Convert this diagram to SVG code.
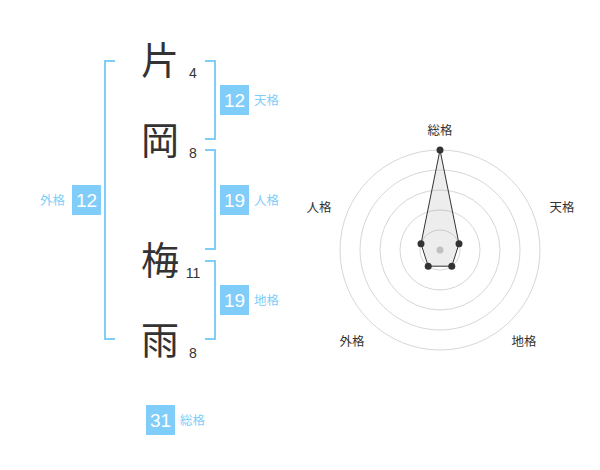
<svg xmlns="http://www.w3.org/2000/svg" width="600" height="470" viewBox="0 0 600 470">
<style>
.kanji{font-family:"Noto Sans CJK JP","Noto Sans CJK SC",sans-serif;font-size:38px;fill:#333;text-anchor:middle}
.cnt{font-family:"Liberation Sans",Arial,sans-serif;font-size:14px;fill:#333;text-anchor:middle}
.br{fill:none;stroke:#80cdfa;stroke-width:2}
.box{fill:#80cdfa}
.num{font-family:"Liberation Sans",Arial,sans-serif;font-size:19px;fill:#fff;text-anchor:middle}
.lab{font-family:"Noto Sans CJK JP",sans-serif;font-size:12.5px;fill:#80cdfa}
.rl{font-family:"Noto Sans CJK JP",sans-serif;font-size:12.5px;fill:#333;text-anchor:middle}
.ring{fill:none;stroke:#ccc;stroke-width:0.8}
</style>
<rect width="600" height="470" fill="#fff"/>
<g id="connectors">
<path class="br" d="M115,61 H105 V339 H115"/>
<path class="br" d="M205,61 H215 V139 H205"/>
<path class="br" d="M205,150 H215 V249 H205"/>
<path class="br" d="M205,261 H215 V339 H205"/>
</g>
<g id="char1"><text class="kanji" x="160" y="74">片</text><text class="cnt" x="193" y="78">4</text></g>
<g id="char2"><text class="kanji" x="160" y="154">岡</text><text class="cnt" x="193" y="158">8</text></g>
<g id="char3"><text class="kanji" x="160" y="274">梅</text><text class="cnt" x="193" y="278">11</text></g>
<g id="char4"><text class="kanji" x="160" y="354">雨</text><text class="cnt" x="193" y="358">8</text></g>
<g id="tenkaku"><rect class="box" x="220" y="85" width="29" height="30"/><text class="num" x="234.5" y="107">12</text><text class="lab" x="254" y="105">天格</text></g>
<g id="jinkaku"><rect class="box" x="220" y="185" width="29" height="30"/><text class="num" x="234.5" y="207">19</text><text class="lab" x="254" y="205">人格</text></g>
<g id="chikaku"><rect class="box" x="220" y="285" width="29" height="30"/><text class="num" x="234.5" y="307">19</text><text class="lab" x="254" y="305">地格</text></g>
<g id="gaikaku"><rect class="box" x="72" y="185" width="29" height="30"/><text class="num" x="86.5" y="207">12</text><text class="lab" x="40" y="205">外格</text></g>
<g id="soukaku"><rect class="box" x="146" y="405" width="29" height="30"/><text class="num" x="160.5" y="427">31</text><text class="lab" x="180" y="425">総格</text></g>
<g id="radar">
<circle class="ring" cx="440" cy="250" r="20"/>
<circle class="ring" cx="440" cy="250" r="40"/>
<circle class="ring" cx="440" cy="250" r="60"/>
<circle class="ring" cx="440" cy="250" r="80"/>
<circle class="ring" cx="440" cy="250" r="100"/>
<circle cx="440" cy="250" r="3.5" fill="#ccc"/>
<polygon points="440,150 459,243.8 451.8,266.2 428.2,266.2 421,243.8" fill="#888" fill-opacity="0.15" stroke="#333" stroke-width="1"/>
<g fill="#333"><circle cx="440" cy="150" r="3.5"/><circle cx="459" cy="243.8" r="3.5"/><circle cx="451.8" cy="266.2" r="3.5"/><circle cx="428.2" cy="266.2" r="3.5"/><circle cx="421" cy="243.8" r="3.5"/></g>
<text class="rl" x="440" y="135">総格</text>
<text class="rl" x="562" y="212">天格</text>
<text class="rl" x="524" y="346">地格</text>
<text class="rl" x="352" y="346">外格</text>
<text class="rl" x="319" y="212">人格</text>
</g>
</svg>
